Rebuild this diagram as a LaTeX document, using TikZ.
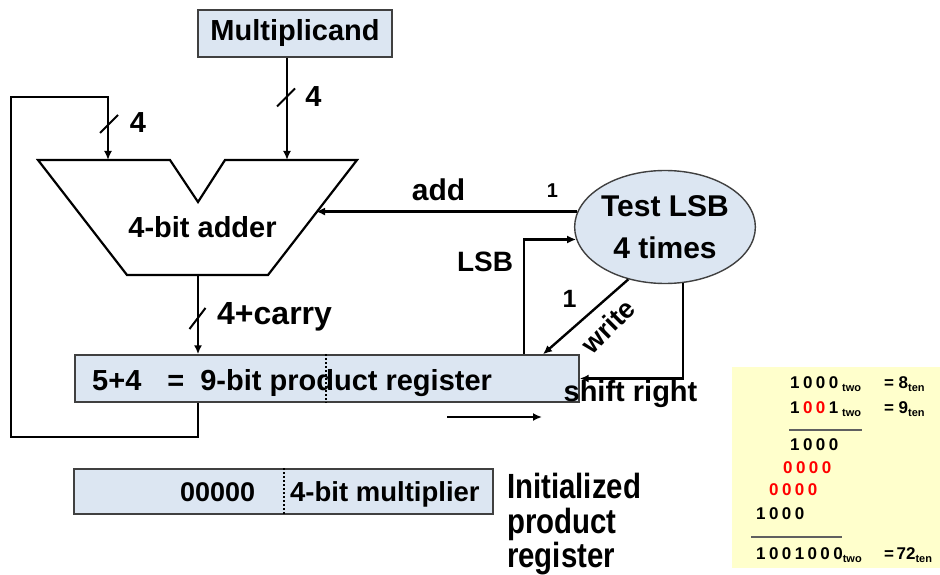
\documentclass[tikz,border=0pt]{standalone}
\usepackage{fontspec}
\setmainfont{Liberation Sans}
\newfontfamily\narrowfont{Liberation Sans}[FakeStretch=0.84]
\newfontfamily\digitfont{Liberation Sans}[WordSpace=0.72]
\usetikzlibrary{arrows.meta,shapes.geometric}

\definecolor{regfill}{HTML}{DCE6F2}
\definecolor{notefill}{HTML}{FFFFCC}
\definecolor{rim}{HTML}{404040}
\definecolor{rulegray}{HTML}{606060}
\definecolor{digitred}{HTML}{FF0000}

% subscript-style unit tag ("two", "ten")
\newcommand{\lowtag}[1]{\raisebox{-3pt}{\fontsize{11}{11}\selectfont\bfseries #1}}
\newcommand{\fsz}[1]{\fontsize{#1}{#1}\selectfont\bfseries}

\begin{document}
\begin{tikzpicture}[x=1pt,y=-1pt,
  wire/.style={line width=2.4pt,-{Latex[length=9pt,width=8pt]}},
  slash/.style={line width=2pt},
  regbox/.style={draw=rim,line width=1.4pt,fill=regfill,inner sep=0pt},
  lbl/.style={inner sep=0pt,text depth=0pt,text height={0.716*#1pt},font=\fsz{#1}},
  lbl/.default=29,
  divider/.style={line width=2pt,dash pattern=on 2pt off 2pt},
  digits/.style={inner sep=0pt,anchor=base west,font=\digitfont\fsz{17}},
]
\useasboundingbox (0,0) rectangle (940,575);

% ---------- registers and control ----------
\node[regbox,minimum width=194pt,minimum height=47pt,font=\fsz{29}]
  (mcand) at (295,33.5) {Multiplicand};

\node[regbox,minimum width=504pt,minimum height=47pt] (reg) at (327,378.5) {};
\draw[divider] (reg.north -| 326,0) -- (reg.south -| 326,0);
\node[lbl=29,anchor=west] (regtxt) at (92,380.5)
  {5+4\hspace{26pt}=\hspace{16pt}9-bit product register};

\node[ellipse,draw=rim,line width=1.4pt,fill=regfill,inner sep=0pt,
      minimum width=170pt,minimum height=113pt,align=center,
      font=\fontsize{30}{42}\selectfont\bfseries]
  (test) at (665,227) {Test LSB\\4 times};

% ---------- 4-bit adder ----------
\draw[line width=2.2pt,line join=miter]
  (38,160) -- (170,160) -- (198,202) -- (225,160) -- (357,160)
  -- (268,275) -- (127,275) -- cycle;
\node[lbl] (addtxt) at (202.5,227) {4-bit adder};
\coordinate (addA) at (108,160);
\coordinate (addB) at (287,160);
\coordinate (addOut) at (198,275);
\coordinate (addR) at (316,213);

% ---------- data paths ----------
\draw[wire] (mcand.south -| addB) -- (addB);
\coordinate (s2) at (286,97.5);
\draw[slash] (s2) ++(-9,9) -- ++(18,-18);
\node[lbl] (w2) at (313.5,96) {4};

\coordinate (c1) at (198,437);
\coordinate (c2) at (11,437);
\coordinate (c3) at (11,97);
\coordinate (c4) at (108,97);
\draw[wire] (reg.south -| c1) -- (c1) -- (c2) -- (c3) -- (c4) -- (addA);
\coordinate (s1) at (109,124);
\draw[slash] (s1) ++(-9,9) -- ++(18,-18);
\node[lbl] (w1) at (138,122) {4};

\draw[wire] (addOut) -- (reg.north -| addOut);
\coordinate (s3) at (197.5,318.5);
\draw[slash] (s3) ++(-8,10.5) -- ++(16,-21);
\node[lbl=32,anchor=west] (w3) at (217,313.5) {4+carry};

% ---------- control signals ----------
\draw[wire] (test.170) -- (test.170 -| addR);
\node[lbl=30] (addlbl) at (438.5,190) {add};
\node[lbl=20] (one1) at (552.5,190) {1};

\coordinate (lsbx) at (524,0);
\draw[wire] (reg.north -| lsbx) |- (test.188);
\node[lbl=28] (lsblbl) at (485,261) {LSB};

\coordinate (wrx) at (543,0);
\draw[wire] (test.235) -- (reg.north -| wrx);
\node[lbl=25] (one2) at (569.5,299) {1};
\node[lbl=27,rotate=45] (wrlbl) at (608,326) {write};

\draw[wire] (test.288) |- (reg.east);
\node[lbl] (shlbl) at (630.5,391.5) {shift right};

\coordinate (sr0) at (447,417);
\coordinate (sr1) at (542,417);
\draw[wire] (sr0) -- (sr1);

% ---------- initial register contents ----------
\node[regbox,minimum width=419pt,minimum height=45pt] (init) at (283.5,491.5) {};
\draw[divider] (init.north -| 284,0) -- (init.south -| 284,0);
\node[lbl=27,anchor=west] (zeros) at (180,491.5) {00000};
\node[lbl=27.5,anchor=west] (mplier) at (290,491.5) {4-bit multiplier};
\node[anchor=north west,inner sep=0pt,align=left,
      font=\narrowfont\fontsize{35}{34.5}\selectfont\bfseries]
  (initlbl) at (507,473) {Initialized\\product\\register};

% ---------- worked example ----------
\node[fill=notefill,inner sep=0pt,minimum width=208pt,minimum height=201pt]
  (note) at (836,467.5) {};
\node[digits] (r1) at (790,388.5) {1 0 0 0};
\node[digits] (r1t) at (842,388.5) {\lowtag{two}};
\node[digits] (r1v) at (884,388.5) {=\hspace{4.5pt}8\lowtag{ten}};
\node[digits] (r2) at (790,413) {1 \textcolor{digitred}{0} \textcolor{digitred}{0} 1};
\node[digits] (r2t) at (842,413) {\lowtag{two}};
\node[digits] (r2v) at (884,413) {=\hspace{4.5pt}9\lowtag{ten}};
\draw[rulegray,line width=1.2pt] (789,430) -- (862,430);
\node[digits] (r3) at (790,450) {1 0 0 0};
\node[digits,text=digitred] (r4) at (783,473) {0 0 0 0};
\node[digits,text=digitred] (r5) at (769,495) {0 0 0 0};
\node[digits] (r6) at (756,519) {1 0 0 0};
\draw[rulegray,line width=1.2pt] (751,537) -- (842,537);
\node[digits] (r7) at (756,559) {1 0 0 1 0 0 0\lowtag{two}};
\node[digits] (r7v) at (884,559) {=\hspace{2.5pt}72\lowtag{ten}};
\end{tikzpicture}
\end{document}
